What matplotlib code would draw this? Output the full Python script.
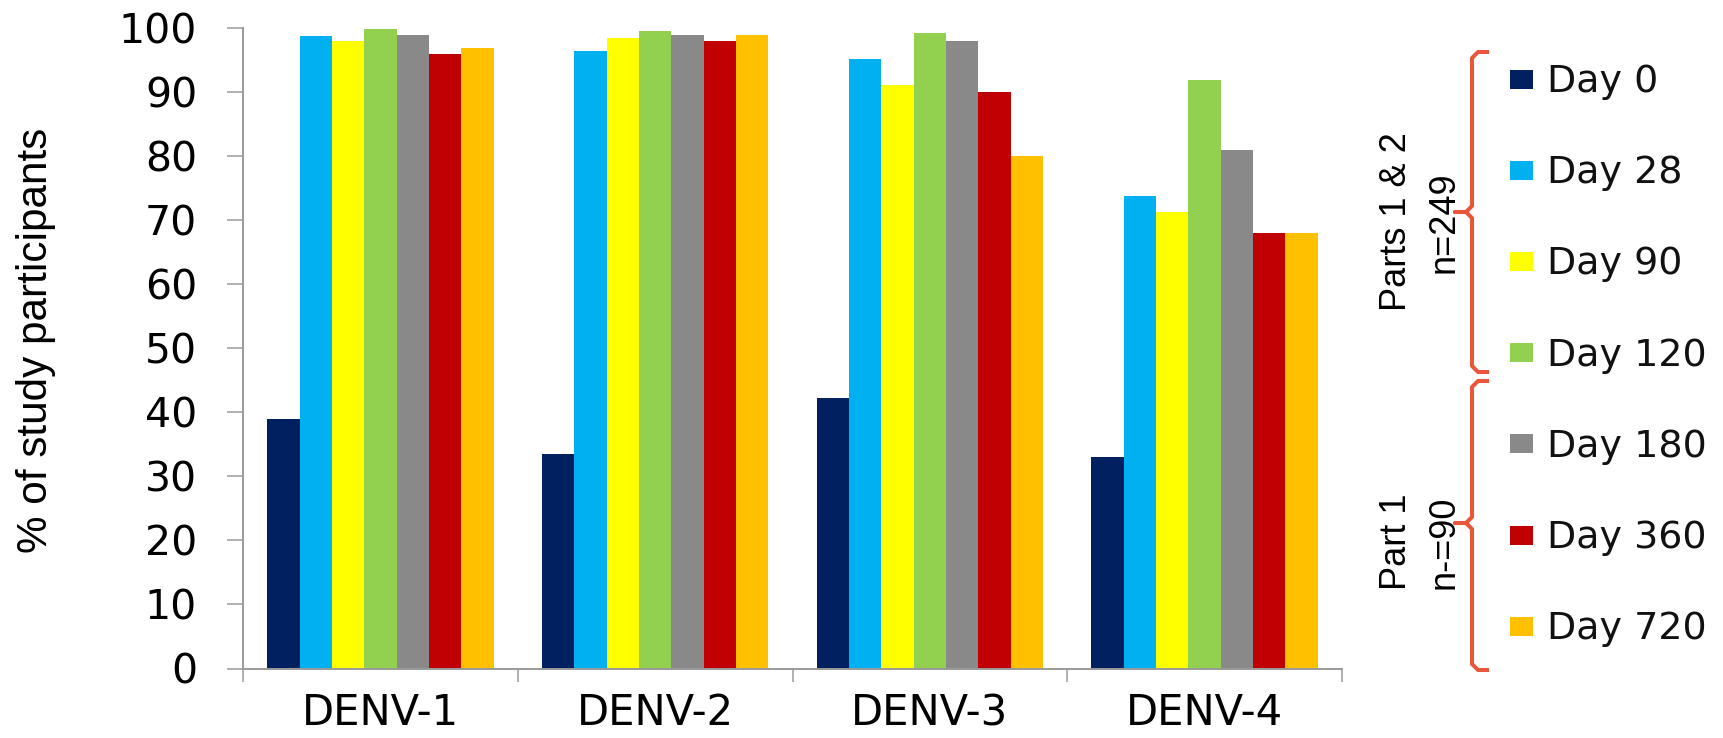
import matplotlib.pyplot as plt
import numpy as np
from matplotlib.lines import Line2D
from matplotlib.patches import Rectangle

W, H = 1723, 738

SEROTYPES = ["DENV-1", "DENV-2", "DENV-3", "DENV-4"]
DAYS = ["Day 0", "Day 28", "Day 90", "Day 120", "Day 180", "Day 360", "Day 720"]
COLORS = ["#002060", "#00B0F0", "#FFFF00", "#92D050", "#898989", "#C00000", "#FFC000"]

# % seropositive per serotype, one list per visit
DAY0 = [39.0, 33.4, 42.2, 33.0]
DAY28 = [98.7, 96.3, 95.1, 73.7]
DAY90 = [97.9, 98.3, 91.0, 71.2]
DAY120 = [99.8, 99.5, 99.1, 91.8]
DAY180 = [98.9, 98.9, 97.9, 80.9]
DAY360 = [95.9, 97.9, 89.9, 67.9]
DAY720 = [96.8, 98.9, 80.0, 67.9]
SERIES = [DAY0, DAY28, DAY90, DAY120, DAY180, DAY360, DAY720]

YTICKS = [0, 10, 20, 30, 40, 50, 60, 70, 80, 90, 100]

GROUPS = [("Parts 1 & 2", "n=249"), ("Part 1", "n-=90")]

AXIS_GRAY = "#9a9a9a"
BRACE_RED = "#E8573C"

plt.rcParams["font.family"] = ["Liberation Sans", "DejaVu Sans"]


def fx(x):
    return x / W


def fy(y):
    return 1 - y / H


def draw_brace(fig, top, mid, bottom, x=1472, hook=1489, tip=1455, r=6):
    xs = [hook, x + r, x, x, x - r, tip, x - r, x, x, x + r, hook]
    ys = [top, top, top + r, mid - r, mid, mid, mid, mid + r, bottom - r, bottom, bottom]
    fig.add_artist(Line2D([fx(v) for v in xs], [fy(v) for v in ys],
                          transform=fig.transFigure, color=BRACE_RED,
                          linewidth=2.9, solid_joinstyle="round", solid_capstyle="butt"))


def main():
    fig = plt.figure(figsize=(W / 100, H / 100), dpi=100)
    fig.patch.set_facecolor("white")
    ax = fig.add_axes([fx(243), fy(668.5), fx(1342) - fx(243), fy(27.5) - fy(668.5)])

    n = len(SERIES)
    cat = np.arange(len(SEROTYPES))
    bw = 1.0 / (n + 1.5)
    for i, (vals, color) in enumerate(zip(SERIES, COLORS)):
        offs = (i - (n - 1) / 2) * bw
        ax.bar(cat + offs, vals, width=bw, color=color, edgecolor="none", zorder=2)

    ax.set_xlim(-0.5, len(SEROTYPES) - 0.5)
    ax.set_ylim(0, 100)

    for s in ("top", "right"):
        ax.spines[s].set_visible(False)
    for s in ("left", "bottom"):
        ax.spines[s].set_color(AXIS_GRAY)
        ax.spines[s].set_linewidth(1.4)

    ax.set_yticks(YTICKS)
    ax.set_yticklabels([str(t) for t in YTICKS])
    ax.tick_params(axis="y", direction="out", length=11.5, width=1.1,
                   color=AXIS_GRAY, pad=21.5, labelsize=29.5)
    for lbl in ax.get_yticklabels():
        lbl.set_fontfamily("DejaVu Sans")

    # separators between serotype groups as major ticks, names on minor ticks
    ax.set_xticks(np.arange(-0.5, len(SEROTYPES)), minor=False)
    ax.set_xticklabels([])
    ax.tick_params(axis="x", which="major", direction="out", length=9, width=1.1,
                   color=AXIS_GRAY)
    ax.set_xticks(cat, SEROTYPES, minor=True)
    ax.tick_params(axis="x", which="minor", length=0, pad=17, labelsize=30)
    for lbl in ax.get_xticklabels(minor=True):
        lbl.set_fontfamily("DejaVu Sans")

    fig.text(fx(36), fy(340), "% of study participants", rotation=90,
             ha="center", va="center", fontsize=30.4)

    # legend, drawn by hand to keep the wide row spacing
    for i, (day, color) in enumerate(zip(DAYS, COLORS)):
        yc = 79 + i * 91.2
        fig.add_artist(Rectangle((fx(1510), fy(yc + 9.5)), fx(23), 19 / H,
                                 transform=fig.transFigure, facecolor=color,
                                 edgecolor="none"))
        fig.text(fx(1547), fy(yc + 13), day, ha="left", va="baseline",
                 fontfamily="DejaVu Sans", fontsize=27.4, color="#111111")

    draw_brace(fig, 52, 212, 372)
    draw_brace(fig, 381, 523, 670)

    for (part, count), yc in zip(GROUPS, [222, 542]):
        fig.text(fx(1397), fy(yc), part, rotation=90, ha="center", va="center",
                 fontsize=26)
        fig.text(fx(1444), fy(yc), count, rotation=90, ha="center", va="center",
                 fontsize=26)

    fig.savefig("out.png", dpi=100, facecolor="white")
    plt.close(fig)


if __name__ == "__main__":
    main()
